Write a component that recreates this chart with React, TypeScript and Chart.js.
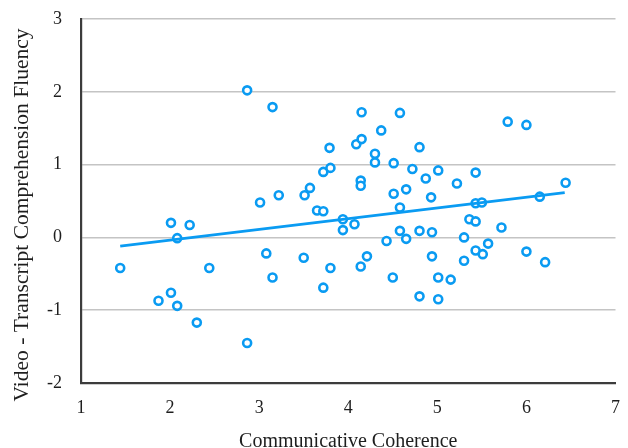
import React, { useEffect, useRef } from "react";
import { Chart, registerables } from "chart.js";

Chart.register(...registerables);

// Communicative Coherence (x) and Video - Transcript Comprehension Fluency (y)
const coherence = [
  1.44, 1.87, 2.01, 2.08, 2.01, 2.08, 2.22, 2.30, 2.44, 2.865,
  2.865, 3.01, 3.08, 3.15, 3.15, 3.22, 3.50, 3.51, 3.57, 3.65,
  3.72, 3.72, 3.72, 3.79, 3.80, 3.80, 3.94, 3.94, 4.07, 4.09,
  4.15, 4.15, 4.14, 4.14, 4.14, 4.21, 4.30, 4.30, 4.37, 4.43,
  4.51, 4.51, 4.50, 4.58, 4.58, 4.58, 4.65, 4.65, 4.72, 4.80,
  4.80, 4.80, 4.87, 4.93, 4.94, 4.94, 5.01, 5.01, 5.01, 5.15,
  5.22, 5.30, 5.30, 5.36, 5.43, 5.43, 5.43, 5.43, 5.50, 5.51,
  5.57, 5.72, 5.79, 6.00, 6.00, 6.15, 6.21, 6.44,
];
const fluency = [
  -0.42, -0.87, -0.76, -0.94, 0.20, -0.01, 0.17, -1.17, -0.42, 2.02,
  -1.45, 0.48, -0.22, 1.79, -0.55, 0.58, -0.28, 0.58, 0.68, 0.37,
  0.36, 0.90, -0.69, 1.23, 0.955, -0.42, 0.25, 0.10, 0.18, 1.28,
  1.35, 1.72, 0.78, 0.71, -0.40, -0.26, 1.15, 1.03, 1.47, -0.05,
  1.02, 0.60, -0.55, 1.71, 0.41, 0.09, 0.66, -0.02, 0.94, 1.24,
  0.09, -0.81, 0.81, 0.55, 0.07, -0.26, 0.92, -0.55, -0.85, -0.58,
  0.74, 0.00, -0.32, 0.25, 0.89, 0.47, 0.22, -0.18, 0.48, -0.23,
  -0.085, 0.135, 1.59, 1.545, -0.195, 0.56, -0.34, 0.75,
];

// Linear trend line end points
const trendX = [1.44, 6.43];
const trendY = [-0.12, 0.615];

const xTitle = "Communicative Coherence";
const yTitle = "Video - Transcript Comprehension Fluency";

const FONT = "'Liberation Serif', 'Times New Roman', serif";
const BLUE = "#0a9bf2";
const TEXT = "#1e1e1e";

const yTitlePlugin = {
  id: "yTitlePlugin",
  afterDraw(chart: any) {
    const ctx = chart.ctx;
    const { top, bottom } = chart.chartArea;
    ctx.save();
    ctx.translate(22.5, (top + bottom) / 2 + 14);
    ctx.rotate(-Math.PI / 2);
    ctx.font = `21.5px ${FONT}`;
    ctx.fillStyle = TEXT;
    ctx.textAlign = "center";
    ctx.textBaseline = "middle";
    ctx.fillText(yTitle, 0, 0);
    ctx.restore();
  },
};

export default function App() {
  const ref = useRef<HTMLCanvasElement | null>(null);

  useEffect(() => {
    if (!ref.current) return;
    const points = coherence.map((x, i) => ({ x, y: fluency[i] }));
    const trend = trendX.map((x, i) => ({ x, y: trendY[i] }));
    const chart = new Chart(ref.current, {
      type: "scatter",
      data: {
        datasets: [
          {
            type: "line",
            data: trend,
            borderColor: BLUE,
            borderWidth: 2.6,
            pointRadius: 0,
            fill: false,
          } as any,
          {
            data: points,
            pointRadius: 4,
            pointBorderWidth: 2.6,
            borderColor: BLUE,
            backgroundColor: "#ffffff",
            pointBackgroundColor: "#ffffff",
            pointBorderColor: BLUE,
          },
        ],
      },
      options: {
        animation: false,
        responsive: false,
        layout: { padding: { top: 19, right: 12.5, left: 0, bottom: 0 } },
        plugins: {
          legend: { display: false },
          tooltip: { enabled: false },
        },
        scales: {
          x: {
            type: "linear",
            min: 1,
            max: 7,
            afterFit: (s: any) => {
              s.height = 65;
              s.paddingLeft = 0;
              s.paddingRight = 0;
            },
            ticks: {
              stepSize: 1,
              padding: 14,
              color: TEXT,
              font: { family: FONT, size: 18 },
            },
            grid: { display: false, drawTicks: false },
            border: { display: true, color: "#3c3c3c", width: 2.2 },
            title: {
              display: true,
              text: xTitle,
              color: TEXT,
              font: { family: FONT, size: 20, lineHeight: 0.6 },
              padding: 0,
            },
          },
          y: {
            type: "linear",
            min: -2,
            max: 3,
            afterFit: (s: any) => {
              s.width = 81;
              s.paddingTop = 0;
              s.paddingBottom = 0;
            },
            ticks: {
              stepSize: 1,
              padding: 19,
              color: TEXT,
              font: { family: FONT, size: 18 },
            },
            grid: { color: "#c4c4c4", lineWidth: 1.5, drawTicks: false },
            border: { display: true, color: "#3c3c3c", width: 2.2 },
          },
        },
      },
      plugins: [yTitlePlugin],
    });
    return () => chart.destroy();
  }, []);

  return (
    <div style={{ position: "fixed", left: 0, top: 0, width: 628, height: 448, background: "#fff" }}>
      <canvas ref={ref} width={628} height={448} />
    </div>
  );
}
